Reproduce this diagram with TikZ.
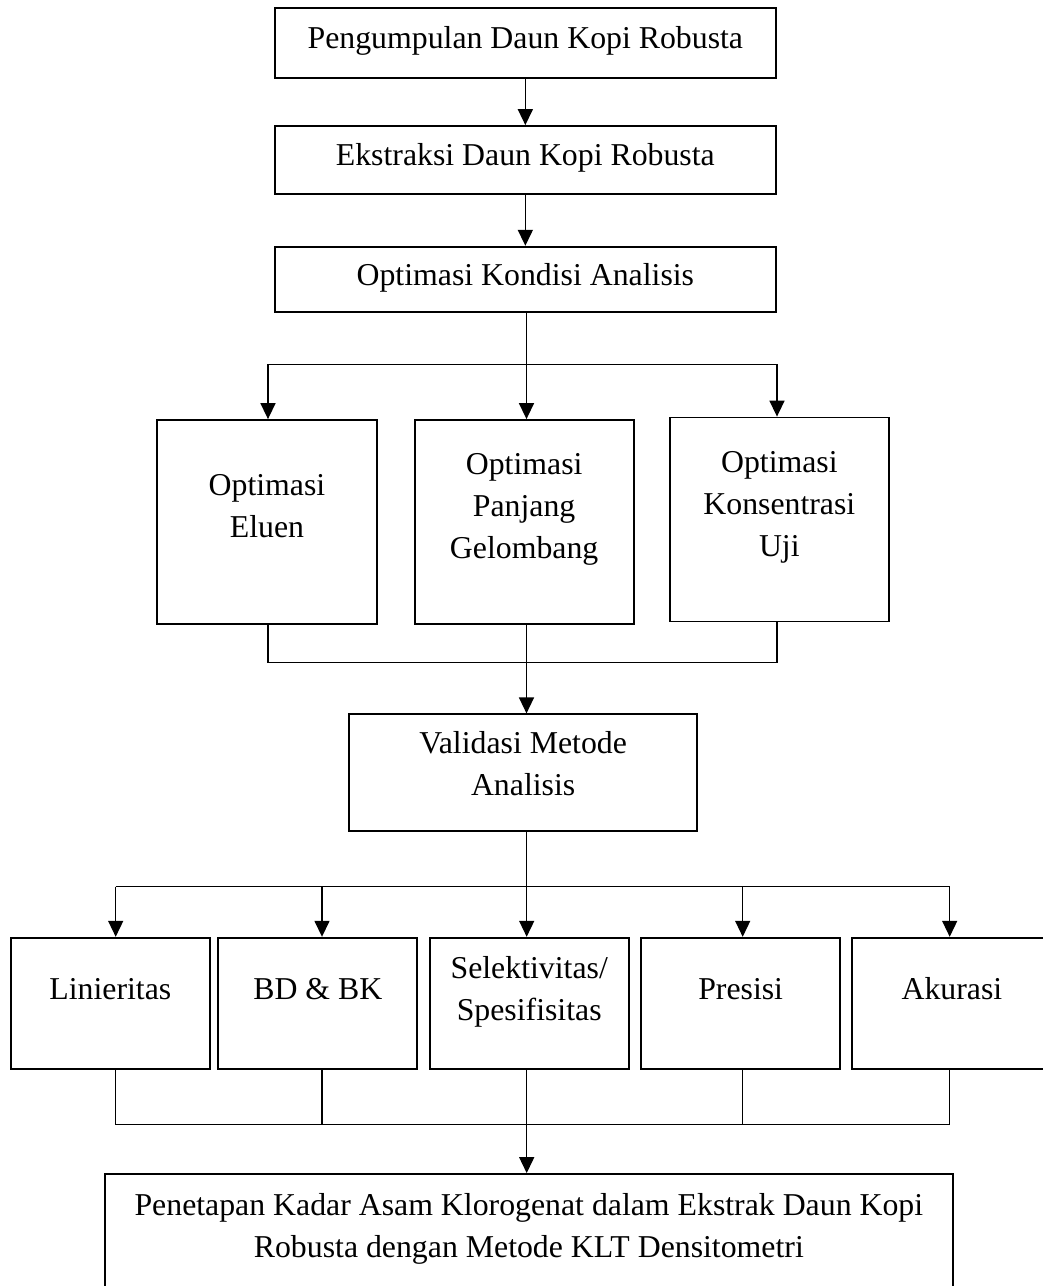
\documentclass[tikz,border=0pt]{standalone}
\usepackage{fontspec}
\setmainfont{Liberation Serif}
\usetikzlibrary{arrows.meta,calc}
\newcommand{\mlines}[1]{\vtop{\baselineskip=42pt\halign{\hfil##\hfil\cr#1\crcr}}}
\tikzset{
  box/.style={draw, line width=1.8pt, inner sep=0pt, rectangle},
  txt/.style={font=\fontsize{31.8}{42}\selectfont, inner sep=0pt, anchor=base},
  ln/.style={line width=1.5pt},
  arr/.style={line width=1.5pt, -{Triangle[length=16pt,width=15pt]}},
}
\begin{document}
\begin{tikzpicture}[x=1pt,y=-1pt]
\useasboundingbox (0,0) rectangle (1043,1286);
\fill[white] (0,0) rectangle (1043,1286);
\clip (0,0) rectangle (1043,1286);
% top boxes
\node[box, minimum width=501.5, minimum height=69.4] (b1) at (525.35,43) {};
\node[box, minimum width=501.5, minimum height=68.3] (b2) at (525.35,160.15) {};
\node[box, minimum width=501.5, minimum height=65.6] (b3) at (525.35,279.5) {};
\node[txt] (t1) at (525.35,48.3) {Pengumpulan Daun Kopi Robusta};
\node[txt] (t2) at (525.35,165) {Ekstraksi Daun Kopi Robusta};
\node[txt] (t3) at (525.35,285) {Optimasi Kondisi Analisis};
% optimization boxes
\node[box, minimum width=219.4, minimum height=204] (e1) at (267,522) {};
\node[box, minimum width=218.9, minimum height=204] (e2) at (524.15,522) {};
\node[box, minimum width=219.1, minimum height=204] (e3) at (779.35,519.5) {};
\node[txt] (te1) at (267,495) {\mlines{Optimasi\cr Eluen}};
\node[txt] (te2) at (524.15,474) {\mlines{Optimasi\cr Panjang\cr Gelombang}};
\node[txt] (te3) at (779.35,472.7) {\mlines{Optimasi\cr Konsentrasi\cr Uji}};
% validation box
\node[box, minimum width=347.7, minimum height=116.7] (v) at (523.15,772.65) {};
\node[txt] (tv) at (523.15,753.3) {\mlines{Validasi Metode\cr Analisis}};
% parameter boxes
\node[box, minimum width=199.3, minimum height=131.3] (L) at (110.35,1003.35) {};
\node[box, minimum width=199.0, minimum height=131.3] (B) at (317.8,1003.35) {};
\node[box, minimum width=199.0, minimum height=131.3] (S) at (529.2,1003.35) {};
\node[box, minimum width=199.3, minimum height=131.3] (P) at (740.65,1003.35) {};
\node[box, minimum width=199.3, minimum height=131.3] (A) at (951.95,1003.35) {};
\node[txt] (tL) at (110.35,999) {Linieritas};
\node[txt] (tB) at (317.8,999) {BD \& BK};
\node[txt] (tS) at (529.2,978.3) {\mlines{Selektivitas/\cr Spesifisitas}};
\node[txt] (tP) at (740.65,999) {Presisi};
\node[txt] (tA) at (951.95,999) {Akurasi};
% final box
\node[box, minimum width=847.7, minimum height=136] (F) at (528.85,1242) {};
\node[txt] (tF) at (528.85,1215) {\mlines{Penetapan Kadar Asam Klorogenat dalam Ekstrak Daun Kopi\cr Robusta dengan Metode KLT Densitometri}};
% connectors top
\draw[arr] (b1.south) -- (b2.north);
\draw[arr] (b2.south) -- (b3.north);
% branch 1
\coordinate (k1l) at (268,364.3);
\coordinate (k1c) at (526.5,364.3);
\coordinate (k1r) at (777,364.3);
\draw[ln] (k1l) -- (k1r);
\draw[ln] (k1c |- b3.south) -- (k1c);
\draw[arr] (k1l) -- (k1l |- e1.north);
\draw[arr] (k1c) -- (k1c |- e2.north);
\draw[arr] (k1r) -- (k1r |- e3.north);
% join 1
\coordinate (m1l) at (268,662.7);
\coordinate (m1c) at (526.5,662.7);
\coordinate (m1r) at (777,662.7);
\draw[ln] (m1l |- e1.south) -- (m1l) -- (m1r) -- (m1r |- e3.south);
\draw[ln] (m1c |- e2.south) -- (m1c);
\draw[arr] (m1c) -- (m1c |- v.north);
% branch 2
\coordinate (k2a) at (115.7,886.7);
\coordinate (k2b) at (322,886.7);
\coordinate (k2c) at (526.7,886.7);
\coordinate (k2d) at (742.7,886.7);
\coordinate (k2e) at (949.7,886.7);
\draw[ln] (k2a) -- (k2e);
\draw[ln] (k2c |- v.south) -- (k2c);
\draw[arr] (k2a) -- (k2a |- L.north);
\draw[arr] (k2b) -- (k2b |- B.north);
\draw[arr] (k2c) -- (k2c |- S.north);
\draw[arr] (k2d) -- (k2d |- P.north);
\draw[arr] (k2e) -- (k2e |- A.north);
% join 2
\coordinate (m2a) at (115.7,1124.7);
\coordinate (m2b) at (322,1124.7);
\coordinate (m2c) at (526.7,1124.7);
\coordinate (m2d) at (742.7,1124.7);
\coordinate (m2e) at (949.7,1124.7);
\draw[ln] (m2a |- L.south) -- (m2a) -- (m2e) -- (m2e |- A.south);
\draw[ln] (m2b |- B.south) -- (m2b);
\draw[ln] (m2d |- P.south) -- (m2d);
\draw[arr] (m2c |- S.south) -- (m2c |- F.north);
\end{tikzpicture}
\end{document}
